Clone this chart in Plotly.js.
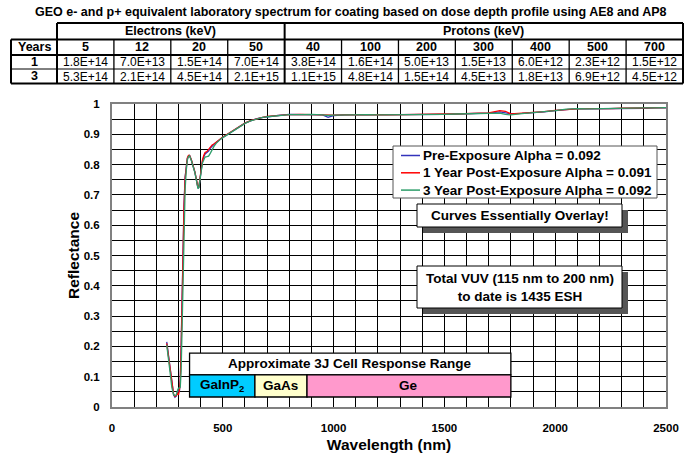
<!DOCTYPE html>
<html>
<head>
<meta charset="utf-8">
<script src="https://cdn.plot.ly/plotly-3.0.1.min.js"></script>
<style>html,body{margin:0;padding:0;background:#fff;}#chart{width:690px;height:457px;}</style>
</head>
<body>
<div id="chart"></div>
<script>
// ---------- DATA ----------
const wavelength = [247,255,262,270,278,284,290,296,300,304,308,312,316,320,325,330,335,340,345,350,358,366,374,382,388,392,397,402,408,414,420,428,436,444,452,460,470,480,490,500,520,540,560,580,600,625,650,675,700,750,800,850,900,950,975,1000,1050,1100,1150,1200,1250,1300,1350,1400,1450,1500,1550,1600,1650,1700,1750,1775,1800,1850,1900,1950,2000,2050,2100,2150,2200,2250,2300,2350,2400,2450,2500];
const preExposure = [0.215,0.17,0.12,0.07,0.04,0.032,0.036,0.05,0.055,0.05,0.09,0.2,0.36,0.52,0.67,0.76,0.80,0.82,0.828,0.83,0.815,0.795,0.775,0.745,0.722,0.725,0.75,0.785,0.81,0.825,0.835,0.84,0.845,0.855,0.862,0.867,0.873,0.879,0.885,0.89,0.899,0.908,0.917,0.927,0.937,0.944,0.951,0.955,0.958,0.962,0.966,0.965,0.965,0.964,0.956,0.962,0.964,0.964,0.964,0.964,0.964,0.964,0.965,0.965,0.966,0.966,0.967,0.968,0.969,0.970,0.974,0.972,0.968,0.969,0.971,0.974,0.978,0.982,0.985,0.984,0.984,0.985,0.985,0.986,0.986,0.987,0.987];
const post1Year = [0.21,0.165,0.118,0.068,0.042,0.035,0.038,0.045,0.04,0.055,0.085,0.19,0.35,0.51,0.66,0.755,0.80,0.822,0.83,0.83,0.816,0.796,0.776,0.747,0.724,0.727,0.752,0.79,0.815,0.83,0.84,0.843,0.85,0.86,0.865,0.868,0.874,0.88,0.886,0.891,0.9,0.909,0.918,0.928,0.937,0.945,0.951,0.955,0.959,0.963,0.965,0.966,0.965,0.965,0.963,0.963,0.964,0.965,0.964,0.965,0.964,0.965,0.965,0.966,0.966,0.967,0.967,0.968,0.969,0.971,0.978,0.976,0.967,0.969,0.972,0.975,0.979,0.982,0.984,0.985,0.984,0.985,0.986,0.986,0.986,0.987,0.988];
const post3Year = [0.205,0.165,0.115,0.065,0.04,0.038,0.04,0.055,0.062,0.062,0.065,0.12,0.26,0.42,0.6,0.72,0.78,0.815,0.826,0.829,0.814,0.794,0.774,0.744,0.721,0.724,0.748,0.782,0.805,0.815,0.825,0.826,0.828,0.838,0.85,0.86,0.87,0.878,0.884,0.889,0.898,0.907,0.916,0.926,0.936,0.944,0.95,0.955,0.958,0.962,0.965,0.965,0.966,0.964,0.962,0.963,0.964,0.964,0.965,0.964,0.964,0.965,0.965,0.965,0.966,0.966,0.967,0.968,0.969,0.970,0.970,0.966,0.964,0.968,0.971,0.974,0.978,0.983,0.985,0.984,0.985,0.985,0.985,0.986,0.987,0.987,0.988];
const seriesNames = ['Pre-Exposure Alpha = 0.092','1 Year Post-Exposure Alpha = 0.091','3 Year Post-Exposure Alpha = 0.092'];

const bandNames = ['GaInP<sub>2</sub>','GaAs','Ge'];
const bandStart = [350, 645, 880];
const bandEnd = [645, 880, 1800];

const electronEnergies = ['5','12','20','50'];
const protonEnergies = ['40','100','200','300','400','500','700'];
const yearLabels = ['1','3'];
const fluenceYear1 = ['1.8E+14','7.0E+13','1.5E+14','7.0E+14','3.8E+14','1.6E+14','5.0E+13','1.5E+13','6.0E+12','2.3E+12','1.5E+12'];
const fluenceYear3 = ['5.3E+14','2.1E+14','4.5E+14','2.1E+15','1.1E+15','4.8E+14','1.5E+14','4.5E+13','1.8E+13','6.9E+12','4.5E+12'];

// ---------- LAYOUT HELPERS ----------
const W = 690, H = 457, ML = 112, MR = 24, MT = 104, MB = 50;
const PW = W - ML - MR, PH = H - MT - MB;
const px = x => (x - ML) / PW;
const py = y => (H - MB - y) / PH;
const FONT = 'Liberation Sans, Arial, sans-serif';

const shapes = [];
const annotations = [];
function line(x0, y0, x1, y1, w, color) {
  shapes.push({type:'line', xref:'paper', yref:'paper', x0:px(x0), y0:py(y0), x1:px(x1), y1:py(y1), line:{color:color || '#000', width:w}});
}
function text(x, y, t, size, bold, anchor) {
  annotations.push({xref:'paper', yref:'paper', x:px(x), y:py(y), text: bold ? '<b>'+t+'</b>' : t, showarrow:false, xanchor:anchor || 'center', yanchor:'middle', font:{family:FONT, size:size, color:'#000'}});
}

// ---------- TABLE ----------
const tL = 11, tYr = 57, tR = 683;
const colW = (tR - tYr) / (electronEnergies.length + protonEnergies.length);
const rTop = 23, r1 = 39.5, r2 = 55, r3 = 69, rBot = 83.5;
text(351, 12, 'GEO e- and p+ equivalent laboratory spectrum for coating based on dose depth profile using AE8 and AP8', 12.5, true);
const sepX = tYr + colW * electronEnergies.length;
line(tYr, rTop, tR, rTop, 2);
line(tL, r1, tR, r1, 2);
line(tL, r2, tR, r2, 2);
line(tL, r3, tR, r3, 1);
line(tL, rBot, tR, rBot, 2);
line(tL, r1, tL, rBot, 2);
line(tYr, rTop, tYr, rBot, 2);
line(sepX, rTop, sepX, rBot, 2);
line(tR, rTop, tR, rBot, 2);
const allEnergies = electronEnergies.concat(protonEnergies);
for (let i = 1; i < allEnergies.length; i++) {
  if (i === electronEnergies.length) continue;
  line(tYr + colW * i, r1, tYr + colW * i, rBot, 1.3);
}
text((tYr + sepX) / 2, (rTop + r1) / 2, 'Electrons (keV)', 12.5, true);
text((sepX + tR) / 2, (rTop + r1) / 2, 'Protons (keV)', 12.5, true);
text((tL + tYr) / 2, (r1 + r2) / 2, 'Years', 12.5, true);
text((tL + tYr) / 2, (r2 + r3) / 2, yearLabels[0], 12.5, true);
text((tL + tYr) / 2, (r3 + rBot) / 2, yearLabels[1], 12.5, true);
allEnergies.forEach((e, i) => {
  const cx = tYr + colW * (i + 0.5);
  text(cx, (r1 + r2) / 2, e, 12.5, true);
  text(cx, (r2 + r3) / 2 + 0.5, fluenceYear1[i], 12, false);
  text(cx, (r3 + rBot) / 2 + 0.5, fluenceYear3[i], 12, false);
});

// ---------- TEXT BOXES WITH SHADOW ----------
function shadowBox(x0, y0, x1, y1, lines) {
  shapes.push({type:'rect', xref:'paper', yref:'paper', x0:px(x0+6), y0:py(y0+6), x1:px(x1+6), y1:py(y1+6), fillcolor:'#555', line:{width:0}});
  shapes.push({type:'rect', xref:'paper', yref:'paper', x0:px(x0), y0:py(y0), x1:px(x1), y1:py(y1), fillcolor:'#fff', line:{color:'#000', width:1}});
  annotations.push({xref:'paper', yref:'paper', x:px((x0+x1)/2), y:py((y0+y1)/2), text:'<b>'+lines+'</b>', showarrow:false, xanchor:'center', yanchor:'middle', align:'center', font:{family:FONT, size:13.5, color:'#000'}});
}
shadowBox(417, 204, 622, 227, 'Curves Essentially Overlay!');
shadowBox(417, 266, 622, 308, 'Total VUV (115 nm to 200 nm)<br>to date is 1435 ESH');

// ---------- LEGEND (drawn box) ----------
const colors = ['#3333bb', '#ff0000', '#2e9e6a'];
shapes.push({type:'rect', xref:'paper', yref:'paper', x0:px(393), y0:py(146), x1:px(657), y1:py(198), fillcolor:'#fff', line:{color:'#555', width:1}});
seriesNames.forEach((n, i) => {
  const yy = 155.5 + i * 17.3;
  line(401, yy, 420, yy, 1.5, colors[i]);
  text(421, yy, n, 13.5, true, 'left');
});

// ---------- CELL RESPONSE BOX ----------
const bandColors = ['#00ccff', '#ffffcc', '#ff99cc'];
const bandTop = 0.178, bandMid = 0.106, bandBot = 0.033;
shapes.push({type:'rect', xref:'x', yref:'y', x0:bandStart[0], x1:bandEnd[bandEnd.length-1], y0:bandMid, y1:bandTop, fillcolor:'#fff', line:{color:'#000', width:1.3}});
annotations.push({xref:'x', yref:'y', x:(bandStart[0]+bandEnd[bandEnd.length-1])/2, y:(bandMid+bandTop)/2, text:'<b>Approximate 3J Cell Response Range</b>', showarrow:false, font:{family:FONT, size:13.5, color:'#000'}});
bandNames.forEach((n, i) => {
  shapes.push({type:'rect', xref:'x', yref:'y', x0:bandStart[i], x1:bandEnd[i], y0:bandBot, y1:bandMid, fillcolor:bandColors[i], line:{color:'#000', width:1.3}});
  annotations.push({xref:'x', yref:'y', x:(bandStart[i]+bandEnd[i])/2, y:(bandBot+bandMid)/2, text:'<b>'+n+'</b>', showarrow:false, font:{family:FONT, size:13.5, color:'#000'}});
});

// ---------- TRACES ----------
const ys = [preExposure, post1Year, post3Year];
const traces = ys.map((y, i) => ({
  x: wavelength, y: y, type:'scatter', mode:'lines', name: seriesNames[i],
  line:{color: colors[i], width:1.3}
}));

const layout = {
  width: W, height: H,
  margin: {l: ML, r: MR, t: MT, b: MB, pad: 0},
  paper_bgcolor: '#fff', plot_bgcolor: '#fff',
  font: {family: FONT, color: '#000'},
  showlegend: false,
  xaxis: {range:[0,2500], dtick:500, tick0:0, showgrid:true, gridcolor:'#000', gridwidth:1,
          minor:{dtick:100, showgrid:true, gridcolor:'#000', gridwidth:1},
          showline:true, linecolor:'#808080', linewidth:2, mirror:true, zeroline:false, ticks:'',
          ticklabelstandoff:9,
          tickfont:{family:FONT, size:11.5, color:'#000', weight:'bold'},
          title:{text:'<b>Wavelength (nm)</b>', font:{family:FONT, size:15.5, color:'#000'}, standoff:6}},
  yaxis: {range:[0,1], dtick:0.1, tick0:0, showgrid:true, gridcolor:'#000', gridwidth:1,
          minor:{dtick:0.05, showgrid:true, gridcolor:'#000', gridwidth:1},
          showline:true, linecolor:'#808080', linewidth:2, mirror:true, zeroline:false, ticks:'',
          ticklabelstandoff:8, tickformat:'~g',
          tickfont:{family:FONT, size:11.5, color:'#000', weight:'bold'},
          title:{text:'<b>Reflectance</b>', font:{family:FONT, size:15.5, color:'#000'}, standoff:0}},
  shapes: shapes,
  annotations: annotations
};

Plotly.newPlot('chart', traces, layout, {displayModeBar:false, staticPlot:true});
</script>
</body>
</html>
